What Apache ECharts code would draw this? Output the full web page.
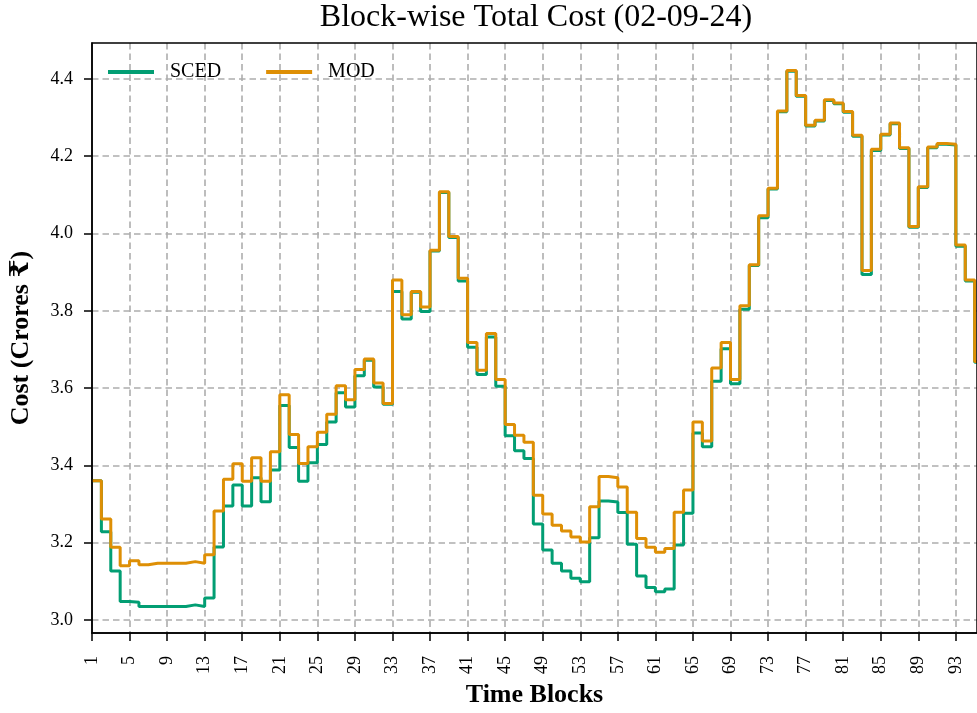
<!DOCTYPE html>
<html>
<head>
<meta charset="utf-8">
<title>Block-wise Total Cost</title>
<script src="https://cdn.jsdelivr.net/npm/echarts@6/dist/echarts.min.js"></script>
<style>
  html, body { margin: 0; padding: 0; background: #fff; }
  #chart { width: 977px; height: 713px; }
</style>
</head>
<body>
<div id="chart"></div>
<script>
// time blocks 1..96
const blocks = Array.from({ length: 96 }, (_, i) => i + 1);

// SCED cost per block (Crores)
const sced = [
  3.360, 3.228, 3.127, 3.048, 3.046, 3.035, 3.035, 3.035, 3.035, 3.035,
  3.039, 3.035, 3.057, 3.189, 3.295, 3.349, 3.295, 3.368, 3.306, 3.388,
  3.555, 3.446, 3.359, 3.407, 3.454, 3.512, 3.588, 3.551, 3.632, 3.672,
  3.603, 3.558, 3.850, 3.779, 3.848, 3.798, 3.955, 4.106, 3.990, 3.877,
  3.706, 3.635, 3.732, 3.605, 3.477, 3.438, 3.418, 3.248, 3.181, 3.147,
  3.127, 3.108, 3.099, 3.213, 3.308, 3.305, 3.278, 3.196, 3.114, 3.084,
  3.073, 3.080, 3.194, 3.276, 3.484, 3.448, 3.618, 3.702, 3.611, 3.804,
  3.917, 4.041, 4.115, 4.315, 4.420, 4.355, 4.278, 4.291, 4.344, 4.336,
  4.314, 4.252, 3.894, 4.215, 4.255, 4.284, 4.220, 4.016, 4.119, 4.222,
  4.231, 4.229, 3.967, 3.877, 3.667, 3.610
];

// MOD cost per block (Crores)
const mod = [
  3.360, 3.261, 3.188, 3.140, 3.153, 3.143, 3.147, 3.147, 3.147, 3.147,
  3.151, 3.147, 3.169, 3.282, 3.364, 3.404, 3.359, 3.420, 3.359, 3.435,
  3.583, 3.480, 3.405, 3.448, 3.486, 3.532, 3.606, 3.570, 3.648, 3.675,
  3.613, 3.560, 3.880, 3.790, 3.850, 3.810, 3.957, 4.108, 3.992, 3.884,
  3.718, 3.646, 3.741, 3.622, 3.506, 3.478, 3.460, 3.323, 3.274, 3.245,
  3.230, 3.215, 3.202, 3.293, 3.371, 3.368, 3.344, 3.279, 3.211, 3.188,
  3.175, 3.185, 3.279, 3.336, 3.512, 3.463, 3.652, 3.718, 3.622, 3.813,
  3.919, 4.046, 4.117, 4.317, 4.422, 4.357, 4.280, 4.293, 4.346, 4.338,
  4.316, 4.254, 3.904, 4.218, 4.257, 4.286, 4.222, 4.018, 4.121, 4.224,
  4.233, 4.231, 3.970, 3.880, 3.669, 3.620
];

const seriesNames = ['SCED', 'MOD'];
const colors = ['#029E73', '#DE8F05'];

const serif = "'Liberation Serif', 'Times New Roman', 'DejaVu Serif', serif";
const gridLine = { color: '#adadad', width: 1.6, type: [6.5, 4] };

const chart = echarts.init(document.getElementById('chart'), null, { renderer: 'canvas' });

const toPairs = (vals) => vals.map((v, i) => [blocks[i], v]);

chart.setOption({
  animation: false,
  color: colors,
  graphic: [{
    type: 'text',
    x: 536,
    y: 18,
    style: {
      text: 'Block-wise Total Cost (02-09-24)',
      font: '32px ' + serif,
      fill: '#000',
      align: 'center',
      verticalAlign: 'middle'
    }
  }],
  legend: {
    data: seriesNames,
    left: 108,
    top: 62,
    padding: 0,
    icon: 'rect',
    itemWidth: 46,
    itemHeight: 4,
    itemGap: 45,
    textStyle: { fontFamily: serif, fontSize: 20, color: '#000', padding: [0, 0, 0, 11] }
  },
  grid: { left: 89, top: 43, right: 0, bottom: 79, containLabel: false, show: true, borderColor: '#000', borderWidth: 1.5, z: 5 },
  xAxis: {
    type: 'value',
    min: 1,
    max: 95.25,
    interval: 4,
    name: 'Time Blocks',
    nameLocation: 'middle',
    nameGap: 47,
    nameTextStyle: { fontFamily: serif, fontSize: 26, fontWeight: 'bold', color: '#000' },
    axisLine: { lineStyle: { color: '#000', width: 1.5 } },
    axisTick: { show: true, length: 8, lineStyle: { color: '#000', width: 1.5 } },
    axisLabel: {
      rotate: 90,
      margin: 23,
      fontFamily: serif,
      fontSize: 18,
      color: '#000',
      showMaxLabel: false,
      formatter: (v) => (Number.isInteger(v) ? String(v) : '')
    },
    splitLine: { show: true, showMinLine: false, showMaxLine: false, lineStyle: gridLine }
  },
  yAxis: {
    type: 'value',
    min: 2.966,
    max: 4.493,
    splitNumber: 7,
    name: 'Cost (Crores ₹)',
    nameLocation: 'middle',
    nameGap: 58,
    nameTextStyle: { fontFamily: serif, fontSize: 26, fontWeight: 'bold', color: '#000' },
    axisLine: { show: true, lineStyle: { color: '#000', width: 1.5 } },
    axisTick: { show: true, length: 8, lineStyle: { color: '#000', width: 1.5 } },
    axisLabel: {
      margin: 19,
      fontFamily: serif,
      fontSize: 18,
      color: '#000',
      showMinLabel: false,
      showMaxLabel: false,
      formatter: (v) => v.toFixed(1)
    },
    splitLine: { show: true, showMinLine: false, showMaxLine: false, lineStyle: gridLine }
  },
  series: [
    {
      name: seriesNames[0],
      type: 'line',
      step: 'end',
      data: toPairs(sced),
      showSymbol: false,
      symbol: 'none',
      lineStyle: { width: 3, color: colors[0] },
      itemStyle: { color: colors[0] },
      z: 2
    },
    {
      name: seriesNames[1],
      type: 'line',
      step: 'end',
      data: toPairs(mod),
      showSymbol: false,
      symbol: 'none',
      lineStyle: { width: 3, color: colors[1] },
      itemStyle: { color: colors[1] },
      z: 3
    }
  ]
});
</script>
</body>
</html>
